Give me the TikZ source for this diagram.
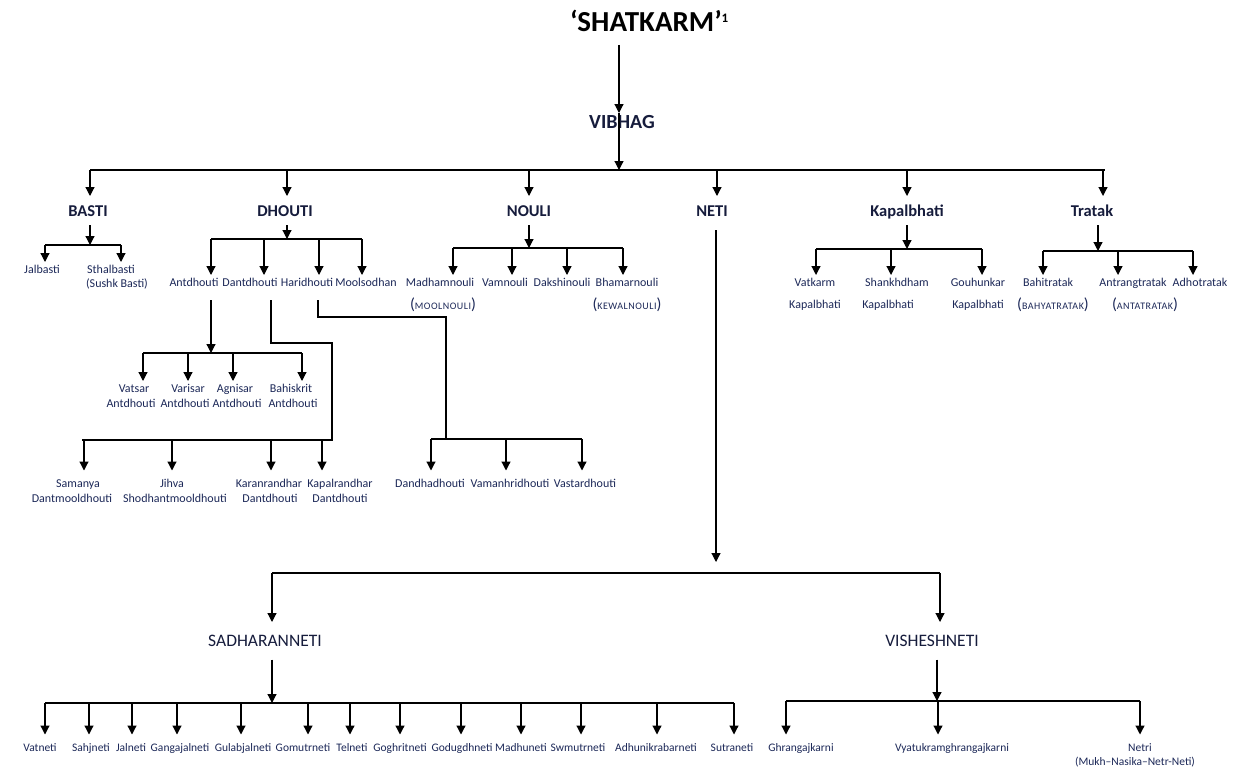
\documentclass[tikz,border=0pt]{standalone}
\usepackage{fontspec}
\setmainfont{Carlito}
\newfontfamily\spcaps{Carlito}[LetterSpace=5]
\usetikzlibrary{arrows.meta}
\definecolor{lblc}{RGB}{28,40,88}
\definecolor{headc}{RGB}{22,28,60}
\begin{document}
\begin{tikzpicture}[x=1pt,y=-1pt,
  ln/.style={line width=1.2pt, black},
  arr/.style={ln, -{Triangle[width=9pt,length=9pt]}},
  head/.style={font=\fontsize{16.5}{18}\selectfont\bfseries, text=headc, anchor=base, inner sep=0pt, outer sep=9pt, text height=11pt, text depth=0pt},
  subhead/.style={font=\fontsize{17.5}{20}\selectfont, text=headc, anchor=base, inner sep=0pt, outer sep=13pt, text height=11.5pt, text depth=0pt},
  lbl/.style={font=\fontsize{12}{14}\selectfont, text=lblc, anchor=base, inner sep=0pt, outer sep=2.5pt, text height=8.5pt, text depth=2.5pt},
  low/.style={lbl, outer sep=8pt},
  nlbl/.style={low, font=\fontsize{11.5}{14}\selectfont},
  parlbl/.style={text=lblc, anchor=base, inner sep=0pt}
]
\fill[white] (0,0) rectangle (1234,768);
\useasboundingbox (0,0) rectangle (1234,768);
\newcommand\bigp[1]{{\fontsize{16}{18}\selectfont #1}}
\newcommand\smc[1]{{\spcaps\fontsize{10}{11}\selectfont #1}}

% title and VIBHAG
\node[font=\fontsize{29}{32}\selectfont\bfseries, anchor=base west, inner sep=0pt, text height=20pt, text depth=0pt, outer sep=13pt] (title) at (557,32) {‘SHATKARM’\raisebox{9pt}{\fontsize{13}{14}\selectfont 1}};
\node[font=\fontsize{20}{22}\selectfont\bfseries, text=headc, anchor=base, inner sep=0pt, text height=13pt, text depth=0pt, outer sep=2.5pt] (vibhag) at (622,128.5) {VIBHAG};
\coordinate (tb) at (619,170);
\draw[arr] (619,0 |- title.south) -- (619,0 |- vibhag.north);
\draw[arr] (619,0 |- vibhag.north) -- (tb);
\draw[ln] (90,0 |- tb) -- (1105,0 |- tb);

% level 1
\node[head] (basti) at (88,216) {BASTI};
\node[head] (dhouti) at (285,216) {DHOUTI};
\node[head] (nouli) at (529,216) {NOULI};
\node[head] (neti) at (712,216) {NETI};
\node[head] (kapal) at (907,216) {Kapalbhati};
\node[head] (tratak) at (1092,216) {Tratak};
\draw[arr] (90,0 |- tb) -- (90,0 |- basti.north);
\draw[arr] (287,0 |- tb) -- (287,0 |- dhouti.north);
\draw[arr] (529,0 |- tb) -- (529,0 |- nouli.north);
\draw[arr] (717,0 |- tb) -- (717,0 |- neti.north);
\draw[arr] (907,0 |- tb) -- (907,0 |- kapal.north);
\draw[arr] (1103,0 |- tb) -- (1103,0 |- tratak.north);

% BASTI
\coordinate (bb) at (90,245);
\draw[arr] (90,0 |- basti.south) -- (bb);
\draw[ln] (45,0 |- bb) -- (121,0 |- bb);
\node[lbl] (jal) at (42,273) {Jalbasti};
\node[lbl] (sthal) at (111,273) {Sthalbasti};
\node[lbl] (sushk) at (117,287) {(Sushk Basti)};
\draw[arr] (45,0 |- bb) -- (45,0 |- jal.north);
\draw[arr] (121,0 |- bb) -- (121,0 |- sthal.north);

% DHOUTI
\coordinate (db) at (287,239);
\draw[arr] (287,0 |- dhouti.south) -- (db);
\draw[ln] (211,0 |- db) -- (362,0 |- db);
\node[lbl] (antd) at (194,286) {Antdhouti};
\node[lbl] (dantd) at (250,286) {Dantdhouti};
\node[lbl] (harid) at (307,286) {Haridhouti};
\node[lbl] (mools) at (366,286) {Moolsodhan};
\draw[arr] (211,0 |- db) -- (211,0 |- antd.north);
\draw[arr] (264,0 |- db) -- (264,0 |- dantd.north);
\draw[arr] (319,0 |- db) -- (319,0 |- harid.north);
\draw[arr] (362,0 |- db) -- (362,0 |- mools.north);

% Antdhouti
\coordinate (ab) at (211,353);
\draw[arr, shorten <=9pt] (211,0 |- antd.south) -- (ab);
\draw[ln] (143,0 |- ab) -- (302,0 |- ab);
\node[lbl] (vatsar) at (134,392) {Vatsar};
\node[lbl] (vatsarb) at (131,407) {Antdhouti};
\node[lbl] (varisar) at (188,392) {Varisar};
\node[lbl] (varisarb) at (185,407) {Antdhouti};
\node[lbl] (agnisar) at (235,392) {Agnisar};
\node[lbl] (agnisarb) at (237,407) {Antdhouti};
\node[lbl] (bahis) at (291,392) {Bahiskrit};
\node[lbl] (bahisb) at (293,407) {Antdhouti};
\draw[arr] (143,0 |- ab) -- (143,0 |- vatsar.north);
\draw[arr] (188,0 |- ab) -- (188,0 |- varisar.north);
\draw[arr] (233,0 |- ab) -- (233,0 |- agnisar.north);
\draw[arr] (302,0 |- ab) -- (302,0 |- bahis.north);

% Dantdhouti
\coordinate (dtc) at (332,343);
\coordinate (dtb) at (332,440);
\draw[ln, shorten <=9pt] (271,0 |- dantd.south) |- (dtc) -- (dtb) -- (82,0 |- dtb);
\node[low] (saman) at (78,487) {Samanya};
\node[lbl] (samanb) at (72,502) {Dantmooldhouti};
\node[low] (jihva) at (172,487) {Jihva};
\node[lbl] (jihvab) at (175,502) {Shodhantmooldhouti};
\node[low] (karan) at (269,487) {Karanrandhar};
\node[lbl] (karanb) at (270,502) {Dantdhouti};
\node[low] (kapalr) at (340,487) {Kapalrandhar};
\node[lbl] (kapalrb) at (340,502) {Dantdhouti};
\draw[arr] (84,0 |- dtb) -- (84,0 |- saman.north);
\draw[arr] (172,0 |- dtb) -- (172,0 |- jihva.north);
\draw[arr] (271,0 |- dtb) -- (271,0 |- karan.north);
\draw[arr] (322,0 |- dtb) -- (322,0 |- kapalr.north);

% Haridhouti
\coordinate (hc) at (446,317);
\coordinate (hb) at (446,439);
\draw[ln, shorten <=9pt] (318,0 |- harid.south) |- (hc) -- (hb);
\draw[ln] (431,0 |- hb) -- (582,0 |- hb);
\node[low] (dandha) at (430,487) {Dandhadhouti};
\node[low] (vaman) at (510,487) {Vamanhridhouti};
\node[low] (vastar) at (585,487) {Vastardhouti};
\draw[arr] (431,0 |- hb) -- (431,0 |- dandha.north);
\draw[arr] (506,0 |- hb) -- (506,0 |- vaman.north);
\draw[arr] (582,0 |- hb) -- (582,0 |- vastar.north);

% NOULI
\coordinate (nb) at (529,248);
\draw[arr] (529,0 |- nouli.south) -- (nb);
\draw[ln] (453,0 |- nb) -- (623,0 |- nb);
\node[lbl] (madham) at (440,286) {Madhamnouli};
\node[lbl] (vamn) at (505,286) {Vamnouli};
\node[lbl] (daksh) at (562,286) {Dakshinouli};
\node[lbl] (bhamar) at (627,286) {Bhamarnouli};
\node[parlbl] (mool) at (443,309) {\bigp{(}\smc{MOOLNOULI}\bigp{)}};
\node[parlbl] (kewal) at (627,309) {\bigp{(}\smc{KEWALNOULI}\bigp{)}};
\draw[arr] (453,0 |- nb) -- (453,0 |- madham.north);
\draw[arr] (512,0 |- nb) -- (512,0 |- vamn.north);
\draw[arr] (567,0 |- nb) -- (567,0 |- daksh.north);
\draw[arr] (623,0 |- nb) -- (623,0 |- bhamar.north);

% Kapalbhati
\coordinate (kb) at (907,249);
\draw[arr] (907,0 |- kapal.south) -- (kb);
\draw[ln] (816,0 |- kb) -- (982,0 |- kb);
\node[lbl] (vatk) at (815,286) {Vatkarm};
\node[lbl] (vatkb) at (815,308) {Kapalbhati};
\node[lbl] (shank) at (897,286) {Shankhdham};
\node[lbl] (shankb) at (888,308) {Kapalbhati};
\node[lbl] (gouh) at (978,286) {Gouhunkar};
\node[lbl] (gouhb) at (978,308) {Kapalbhati};
\draw[arr] (816,0 |- kb) -- (816,0 |- vatk.north);
\draw[arr] (891,0 |- kb) -- (891,0 |- shank.north);
\draw[arr] (982,0 |- kb) -- (982,0 |- gouh.north);

% Tratak
\coordinate (trb) at (1098,251);
\draw[arr] (1098,0 |- tratak.south) -- (trb);
\draw[ln] (1043,0 |- trb) -- (1193,0 |- trb);
\node[lbl] (bahi) at (1048,286) {Bahitratak};
\node[lbl] (antr) at (1133,286) {Antrangtratak};
\node[lbl] (adho) at (1200,286) {Adhotratak};
\node[parlbl] (bahya) at (1053,309) {\bigp{(}\smc{BAHYATRATAK}\bigp{)}};
\node[parlbl] (antat) at (1145,309) {\bigp{(}\smc{ANTATRATAK}\bigp{)}};
\draw[arr] (1043,0 |- trb) -- (1043,0 |- bahi.north);
\draw[arr] (1118,0 |- trb) -- (1118,0 |- antr.north);
\draw[arr] (1193,0 |- trb) -- (1193,0 |- adho.north);

% NETI
\coordinate (ntip) at (716,562);
\coordinate (nt) at (716,573);
\draw[arr, shorten <=5pt] (716,0 |- neti.south) -- (ntip);
\draw[ln] (272,0 |- nt) -- (940,0 |- nt);
\node[subhead] (sadh) at (265,646.5) {SADHARANNETI};
\node[subhead] (vish) at (932,646.5) {VISHESHNETI};
\draw[arr] (272,0 |- nt) -- (272,0 |- sadh.north);
\draw[arr] (940,0 |- nt) -- (940,0 |- vish.north);

% SADHARANNETI
\coordinate (sb) at (272,703);
\draw[arr] (272,0 |- sadh.south) -- (sb);
\draw[ln] (45,0 |- sb) -- (734,0 |- sb);
\node[nlbl] (vatn) at (40,751) {Vatneti};
\node[nlbl] (sahj) at (91,751) {Sahjneti};
\node[nlbl] (jaln) at (131,751) {Jalneti};
\node[nlbl] (ganga) at (180,751) {Gangajalneti};
\node[nlbl] (gulab) at (243,751) {Gulabjalneti};
\node[nlbl] (gomu) at (303,751) {Gomutrneti};
\node[nlbl] (teln) at (352,751) {Telneti};
\node[nlbl] (gogh) at (400,751) {Goghritneti};
\node[nlbl] (godu) at (462,751) {Godugdhneti};
\node[nlbl] (madhu) at (521,751) {Madhuneti};
\node[nlbl] (swmu) at (578,751) {Swmutrneti};
\node[nlbl] (adhu) at (656,751) {Adhunikrabarneti};
\node[nlbl] (sutra) at (732,751) {Sutraneti};
\draw[arr] (45,0 |- sb) -- (45,0 |- vatn.north);
\draw[arr] (89,0 |- sb) -- (89,0 |- sahj.north);
\draw[arr] (132,0 |- sb) -- (132,0 |- jaln.north);
\draw[arr] (177,0 |- sb) -- (177,0 |- ganga.north);
\draw[arr] (241,0 |- sb) -- (241,0 |- gulab.north);
\draw[arr] (308,0 |- sb) -- (308,0 |- gomu.north);
\draw[arr] (350,0 |- sb) -- (350,0 |- teln.north);
\draw[arr] (400,0 |- sb) -- (400,0 |- gogh.north);
\draw[arr] (461,0 |- sb) -- (461,0 |- godu.north);
\draw[arr] (521,0 |- sb) -- (521,0 |- madhu.north);
\draw[arr] (581,0 |- sb) -- (581,0 |- swmu.north);
\draw[arr] (657,0 |- sb) -- (657,0 |- adhu.north);
\draw[arr] (734,0 |- sb) -- (734,0 |- sutra.north);

% VISHESHNETI
\coordinate (vb) at (937,701);
\draw[arr] (937,0 |- vish.south) -- (vb);
\draw[ln] (786,0 |- vb) -- (1140,0 |- vb);
\node[nlbl] (ghran) at (801,751) {Ghrangajkarni};
\node[nlbl] (vyatu) at (952,751) {Vyatukramghrangajkarni};
\node[nlbl] (netri) at (1140,751) {Netri};
\node[lbl, font=\fontsize{11.5}{14}\selectfont] (mukh) at (1135,765) {(Mukh–Nasika–Netr-Neti)};
\draw[arr] (786,0 |- vb) -- (786,0 |- ghran.north);
\draw[arr] (938,0 |- vb) -- (938,0 |- vyatu.north);
\draw[arr] (1140,0 |- vb) -- (1140,0 |- netri.north);
\end{tikzpicture}
\end{document}
